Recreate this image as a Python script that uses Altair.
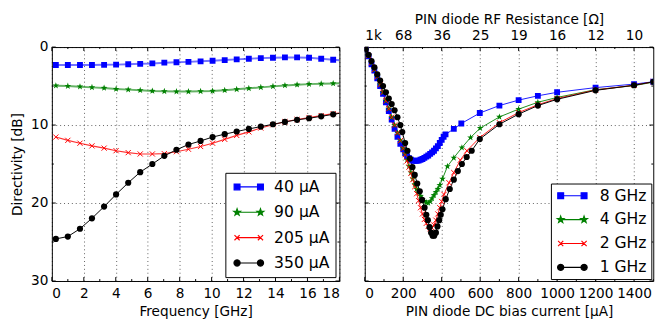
import math
import altair as alt
import pandas as pd

# ---------------- data: left panel (directivity vs frequency) ----------------
freq_ghz = [0.25, 1.0, 1.76, 2.51, 3.27, 4.02, 4.78, 5.53, 6.29, 7.04, 7.8, 8.55,
            9.31, 10.06, 10.82, 11.57, 12.33, 13.08, 13.84, 14.59, 15.35, 16.1,
            16.86, 17.61, 18.0]
dir_40uA = [2.3, 2.3, 2.3, 2.3, 2.28, 2.25, 2.2, 2.15, 2.1, 2.0, 1.95, 1.9,
            1.83, 1.75, 1.67, 1.58, 1.5, 1.42, 1.37, 1.33, 1.33, 1.37, 1.5, 1.62, 1.7]
dir_90uA = [4.95, 5.0, 5.08, 5.17, 5.25, 5.38, 5.46, 5.54, 5.63, 5.67, 5.71, 5.71,
            5.67, 5.63, 5.54, 5.42, 5.29, 5.17, 5.04, 4.92, 4.83, 4.75, 4.71, 4.67, 4.65]
dir_205uA = [11.54, 11.96, 12.33, 12.67, 12.96, 13.29, 13.54, 13.71, 13.71, 13.67, 13.42, 13.1,
             12.75, 12.33, 11.83, 11.33, 10.88, 10.38, 9.96, 9.58, 9.29, 9.04, 8.79, 8.54, 8.45]
dir_350uA = [24.6, 24.3, 23.3, 21.96, 20.46, 18.9, 17.4, 16.04, 15.0, 13.95, 13.17, 12.5,
             12.04, 11.54, 11.17, 10.83, 10.5, 10.2, 9.9, 9.6, 9.33, 9.13, 8.88, 8.63, 8.5]
bias_labels = ["\u200740 \u03bcA", "\u200790 \u03bcA", "205 \u03bcA", "350 \u03bcA"]

# ---------------- data: right panel (directivity vs bias current) ----------------
cur_8ghz = [5, 20, 35, 50, 65, 80, 95, 110, 125, 140, 155, 170, 185, 200, 210, 220, 230, 240,
            250, 260, 270, 280, 290, 300, 310, 320, 330, 340, 350, 360, 370, 380, 390, 400,
            410, 420, 463, 502, 598, 700, 800, 900, 1000, 1200, 1400, 1500]
dir_8ghz = [0.3, 1.2, 2.2, 3.0, 4.0, 5.0, 6.0, 7.1, 8.2, 9.3, 10.5, 11.5, 12.4, 13.1, 13.6,
            14.0, 14.25, 14.45, 14.55, 14.6, 14.6, 14.55, 14.45, 14.35, 14.2, 14.05, 13.9,
            13.7, 13.5, 13.3, 13.0, 12.7, 12.3, 11.9, 11.5, 11.2, 10.5, 9.8, 8.46, 7.5, 6.8,
            6.25, 5.8, 5.2, 4.75, 4.45]
cur_4ghz = [5, 20, 35, 50, 65, 80, 95, 110, 125, 140, 155, 170, 185, 200, 210, 220, 230, 240,
            250, 260, 270, 280, 290, 300, 310, 320, 330, 340, 350, 360, 370, 380, 390, 404,
            430, 463, 505, 550, 600, 700, 800, 900, 1000, 1200, 1400, 1500]
dir_4ghz = [0.3, 1.1, 2.0, 2.9, 3.8, 4.8, 5.8, 6.9, 7.9, 9.0, 10.0, 11.0, 12.0, 13.0, 13.7,
            14.5, 15.3, 16.1, 16.9, 17.6, 18.2, 18.7, 19.1, 19.5, 19.75, 19.95, 20.0, 19.8,
            19.4, 19.0, 18.6, 18.2, 17.7, 16.9, 15.3, 14.2, 12.9, 11.6, 10.4, 8.96, 7.96,
            7.08, 6.46, 5.46, 4.95, 4.5]
cur_2ghz = [5, 20, 35, 50, 65, 80, 95, 110, 125, 140, 155, 170, 185, 200, 210, 220, 230, 240,
            250, 260, 270, 280, 290, 300, 310, 320, 330, 340, 350, 360, 370, 380, 390, 400,
            412, 438, 463, 497, 531, 598, 700, 800, 900, 1000, 1200, 1400, 1500]
dir_2ghz = [0.3, 1.1, 2.0, 2.9, 3.8, 4.8, 5.8, 6.9, 7.9, 9.0, 10.0, 11.0, 12.0, 13.0, 13.8,
            14.6, 15.4, 16.2, 17.0, 17.9, 18.8, 19.7, 20.6, 21.4, 22.1, 22.6, 23.0, 23.3,
            23.2, 22.8, 22.2, 21.4, 20.6, 19.8, 18.9, 17.4, 16.1, 14.5, 13.3, 11.6, 9.7, 8.4,
            7.4, 6.6, 5.5, 4.9, 4.45]
cur_1ghz = [5, 20, 35, 50, 65, 80, 95, 110, 125, 140, 155, 170, 185, 195, 210, 222, 235, 248,
            260, 273, 286, 298, 311, 320, 328, 337, 345, 353, 361, 370, 378, 387, 395, 404,
            421, 442, 463, 484, 505, 530, 556, 598, 700, 800, 900, 1000, 1200, 1400, 1500]
dir_1ghz = [0.3, 1.0, 1.8, 2.6, 3.5, 4.3, 5.0, 5.8, 6.6, 7.3, 8.1, 9.0, 10.0, 10.9, 12.3,
            13.3, 14.3, 15.4, 16.4, 17.5, 18.5, 19.6, 20.6, 21.5, 22.2, 23.1, 23.8, 24.2,
            24.2, 23.8, 23.0, 22.2, 21.5, 20.8, 19.5, 18.2, 17.0, 15.9, 15.0, 14.1, 13.3,
            11.8, 9.9, 8.6, 7.5, 6.7, 5.55, 4.9, 4.45]
freq_labels = ["8 GHz", "4 GHz", "2 GHz", "1 GHz"]

# tick values / labels
freq_major = [0, 2, 4, 6, 8, 10, 12, 14, 16, 18]
freq_minor = [1, 3, 5, 7, 9, 11, 13, 15, 17]
cur_major = [0, 200, 400, 600, 800, 1000, 1200, 1400]
cur_minor = [100, 300, 500, 700, 900, 1100, 1300, 1500]
dir_major = [0, 10, 20, 30]
dir_minor = [5, 15, 25]
res_tick_pos = [0, 200, 400, 600, 800, 1000, 1200, 1400]
res_tick_labels = ["1k", "68", "36", "25", "19", "16", "12", "10"]

# ---------------- styles ----------------
COLORS = ["#0000ff", "#008000", "#ff0000", "#000000"]
FONT = "DejaVu Sans"
AX_FS = 14
LEG_FS = 16
W_L, W_R, H = 295, 296, 240

STAR_PTS = []
for k in range(10):
    r = 1.0 if k % 2 == 0 else 0.4
    a = math.radians(-90 + 36 * k)
    STAR_PTS.append((r * math.cos(a), r * math.sin(a)))
CIRC_PTS = [(math.cos(math.radians(30 * k)), math.sin(math.radians(30 * k)))
            for k in range(12)]


def f3(v):
    return f"{v:.3f}"


def poly_path(cx, R, pts):
    return "M" + "L".join(f"{f3(cx + R * x)},{f3(R * y)}" for x, y in pts) + "Z"


def square_path(cx, h):
    return poly_path(cx, h, [(-1, -1), (1, -1), (1, 1), (-1, 1)])


def x_path(cx, h):
    return (f"M{f3(cx - h)},{f3(-h)}L{f3(cx + h)},{f3(h)}"
            f"M{f3(cx - h)},{f3(h)}L{f3(cx + h)},{f3(-h)}")


STAR = poly_path(0, 1, STAR_PTS)
XMARK = x_path(0, 1)
MARK_SHAPES = ["square", STAR, XMARK, "circle"]
MARK_SIZES = [36, 52, 28, 40]
MARK_FILLED = [True, True, False, True]

# legend symbols: line with a marker at each end (symbolSize 225 -> 7.5 px per unit)
U = 7.5
C1, C2 = -2.5 / U, 21.5 / U
SEG = f"M{f3(C1)},0L{f3(C2)},0"
LEGEND_PATHS = [
    SEG + square_path(C1, 3.0 / U) + square_path(C2, 3.0 / U),
    SEG + poly_path(C1, 3.6 / U, STAR_PTS) + poly_path(C2, 3.6 / U, STAR_PTS),
    SEG + x_path(C1, 2.65 / U) + x_path(C2, 2.65 / U),
    SEG + poly_path(C1, 3.2 / U, CIRC_PTS) + poly_path(C2, 3.2 / U, CIRC_PTS),
]


def long_df(names, xs_list, ys_list, xname):
    rows = []
    for name, xs, ys in zip(names, xs_list, ys_list):
        for xv, yv in zip(xs, ys):
            rows.append({"series": name, xname: xv, "dir": yv})
    return pd.DataFrame(rows)


df_left = long_df(bias_labels, [freq_ghz] * 4,
                  [dir_40uA, dir_90uA, dir_205uA, dir_350uA], "x")
df_left_pts = df_left[df_left["x"] < 17.9]
df_right = long_df(freq_labels, [cur_8ghz, cur_4ghz, cur_2ghz, cur_1ghz],
                   [dir_8ghz, dir_4ghz, dir_2ghz, dir_1ghz], "x")

Y_SCALE = alt.Scale(domain=[0, 30], reverse=True, nice=False, zero=False)


def xticks(vals, scale, side, length, axis=None):
    y0, y1 = (H, H - length) if side == "bottom" else (0, length)
    return alt.Chart(pd.DataFrame({"pos": vals})).mark_rule(
        color="black", strokeWidth=1).encode(
        x=alt.X("pos:Q", scale=scale, axis=axis), y=alt.value(y0), y2=alt.value(y1))


def yticks(vals, side, length, W, axis=None):
    x0, x1 = (0, length) if side == "left" else (W, W - length)
    return alt.Chart(pd.DataFrame({"pos": vals})).mark_rule(
        color="black", strokeWidth=1).encode(
        y=alt.Y("pos:Q", scale=Y_SCALE, axis=axis), x=alt.value(x0), x2=alt.value(x1))


def panel(df, df_pts, names, xscale, xmaj, xmin, x_axis, top_axis, y_axis, W,
          line_w, line_op, legend):
    layers = [
        xticks(xmaj, xscale, "bottom", 4, x_axis),
        xticks(xmin, xscale, "bottom", 2),
        xticks(xmaj, xscale, "top", 4, top_axis),
        xticks(xmin, xscale, "top", 2),
        yticks(dir_major, "left", 4, W, y_axis),
        yticks(dir_minor, "left", 2, W),
        yticks(dir_major, "right", 4, W),
        yticks(dir_minor, "right", 2, W),
    ]
    X = alt.X("x:Q", scale=xscale, axis=None)
    Y = alt.Y("dir:Q", scale=Y_SCALE, axis=None)
    for i, name in enumerate(names):
        sub = df[df["series"] == name]
        layers.append(alt.Chart(sub).mark_line(
            color=COLORS[i], strokeWidth=line_w[i], opacity=line_op[i], clip=True
        ).encode(x=X, y=Y))
    for i, name in enumerate(names):
        sub = df_pts[df_pts["series"] == name]
        layers.append(alt.Chart(sub).mark_point(
            shape=MARK_SHAPES[i], size=MARK_SIZES[i], filled=MARK_FILLED[i],
            color=COLORS[i], strokeWidth=1, opacity=1, clip=True
        ).encode(x=X, y=Y))
    fill_sc = alt.Scale(domain=names, range=COLORS)
    shape_sc = alt.Scale(domain=names, range=LEGEND_PATHS)
    layers.append(alt.Chart(df_pts).mark_point(opacity=0, filled=True, size=36).encode(
        x=X, y=Y,
        fill=alt.Fill("series:N", scale=fill_sc, legend=legend),
        stroke=alt.Stroke("series:N", scale=fill_sc, legend=legend),
        shape=alt.Shape("series:N", scale=shape_sc, legend=legend),
    ))
    return alt.layer(*layers).resolve_axis(x="independent", y="independent").properties(
        width=W, height=H)


def make_legend(padding, row_padding, label_offset, offset):
    return alt.Legend(title=None, orient="bottom-right", offset=offset, padding=padding,
                      rowPadding=row_padding, symbolSize=225, symbolStrokeWidth=1.2,
                      symbolOpacity=1, labelOffset=label_offset, labelFontSize=LEG_FS,
                      labelFont=FONT, labelColor="black", strokeColor="black",
                      fillColor="white", cornerRadius=0)


res_expr = " : ".join(f"datum.value == {p} ? '{lab}'" for p, lab in
                      zip(res_tick_pos, res_tick_labels)) + " : ''"

top_common = dict(orient="top", grid=False, ticks=False, domain=False,
                  labelPadding=5, titlePadding=2, title="PIN diode RF Resistance [\u03a9]")

xs_left = alt.Scale(domain=[0, 18], nice=False, zero=False)
xs_right = alt.Scale(domain=[0, 1500], nice=False, zero=False)

left = panel(
    df_left, df_left_pts, bias_labels, xs_left, freq_major, freq_minor,
    alt.Axis(values=freq_major, format="d", title="Frequency [GHz]", grid=True,
             labelPadding=6, titlePadding=4),
    alt.Axis(values=freq_major, labelOpacity=0, titleOpacity=0, **top_common),
    alt.Axis(values=dir_major, format="d", title="Directivity [dB]", grid=True,
             labelPadding=4, titlePadding=6),
    W_L, [2.0, 2.0, 1.2, 1.0], [0.55, 0.6, 0.8, 1.0],
    make_legend(6, 9, 27, 4),
)

right = panel(
    df_right, df_right, freq_labels, xs_right, cur_major, cur_minor,
    alt.Axis(values=cur_major, format="d", title="PIN diode DC bias current [\u03bcA]",
             grid=True, labelPadding=6, titlePadding=4),
    alt.Axis(values=res_tick_pos, labelExpr=res_expr, **top_common),
    alt.Axis(values=dir_major, labels=False, title=None, grid=True),
    W_R, [1.0, 1.0, 1.0, 1.0], [0.9, 0.9, 0.9, 1.0],
    make_legend(4, 7.5, 29, 2),
)

chart = alt.hconcat(left, right, spacing=19).resolve_scale(
    fill="independent", stroke="independent", shape="independent"
).properties(
    padding={"left": 2, "top": 0, "right": 0, "bottom": 0}
).configure_view(
    stroke="black", strokeWidth=1
).configure_axis(
    labelFont=FONT, labelFontSize=AX_FS, titleFont=FONT, titleFontSize=AX_FS,
    titleFontWeight="normal", labelColor="black", titleColor="black",
    gridColor="black", gridDash=[1, 3], gridWidth=0.8, gridOpacity=0.8,
    ticks=False, domain=False
)

chart.save("out.html", embed_options={"renderer": "svg", "actions": False})
